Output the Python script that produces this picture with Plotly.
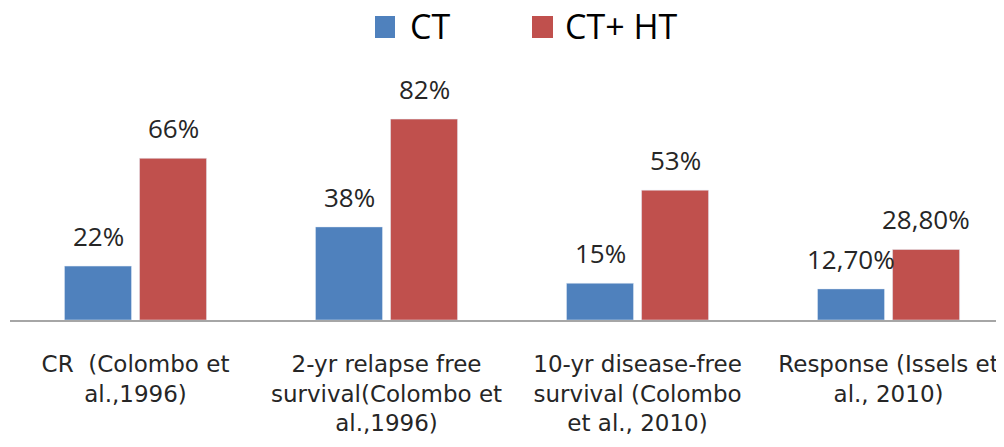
import plotly.graph_objects as go

categories = [
    "CR\u00a0\u00a0(Colombo et<br>al.,1996)",
    "2-yr relapse free<br>survival(Colombo et<br>al.,1996)",
    "10-yr disease-free<br>survival (Colombo<br>et al., 2010)",
    "Response (Issels et<br>al., 2010)",
]
ct_values = [22, 38, 15, 12.7]
ct_labels = ["22%", "38%", "15%", "12,70%"]
cth_values = [66, 82, 53, 28.8]
cth_labels = ["66%", "82%", "53%", "28,80%"]

BLUE = "#4F81BD"
RED = "#C0504D"
TEXT = "#262626"

# the page body has an 8px margin, so the figure is drawn 8px smaller
PAGE = 8
W, H = 1004 - PAGE, 447 - PAGE
L, R, T, B = 2, 0, 92, 127


def px_x(x):
    # window pixel -> paper x
    return (x - PAGE - L) / (W - L - R)


def px_y(y):
    # window pixel -> paper y
    return (H - B - (y - PAGE)) / (H - T - B)


fig = go.Figure()
fig.add_trace(go.Bar(x=categories, y=ct_values, name="CT", marker_color=BLUE, showlegend=False))
fig.add_trace(go.Bar(x=categories, y=cth_values, name="CT+ HT", marker_color=RED, showlegend=False))

# value labels above the bars
for vals, labs, shift in [(ct_values, ct_labels, -37.5), (cth_values, cth_labels, 37.5)]:
    for cat, v, lab in zip(categories, vals, labs):
        fig.add_annotation(
            x=cat, y=v, text=lab, showarrow=False,
            xshift=shift, yshift=10, yanchor="bottom",
            font=dict(family="Open Sans", size=26, color=TEXT),
        )

# legend drawn by hand so the swatches can be large
legend_items = [("CT", BLUE, 375, 395, 408), ("CT+ HT", RED, 532, 553, 563)]
for name, color, x0, x1, xt in legend_items:
    fig.add_shape(
        type="rect", xref="paper", yref="paper",
        x0=px_x(x0), x1=px_x(x1), y0=px_y(38), y1=px_y(16),
        fillcolor=color, line=dict(width=0),
    )
    fig.add_annotation(
        xref="paper", yref="paper", x=px_x(xt), y=px_y(26),
        text=name, showarrow=False, xanchor="left", yanchor="middle",
        font=dict(family="Open Sans", size=34, color="black"),
    )

fig.update_layout(
    width=W, height=H,
    margin=dict(l=L, r=R, t=T, b=B, autoexpand=False),
    plot_bgcolor="white", paper_bgcolor="white",
    barmode="group", bargap=0.402, bargroupgap=0.107,
)
fig.update_xaxes(
    range=[-0.5, 3.46], automargin=False,
    showline=True, linecolor="#A6A6A6", linewidth=2,
    showgrid=False, ticks="",
    ticklabelstandoff=22,
    tickfont=dict(family="DejaVu Sans", size=23, color=TEXT),
)
fig.update_yaxes(range=[0, 89.8], visible=False)

fig.write_html("out.html")
